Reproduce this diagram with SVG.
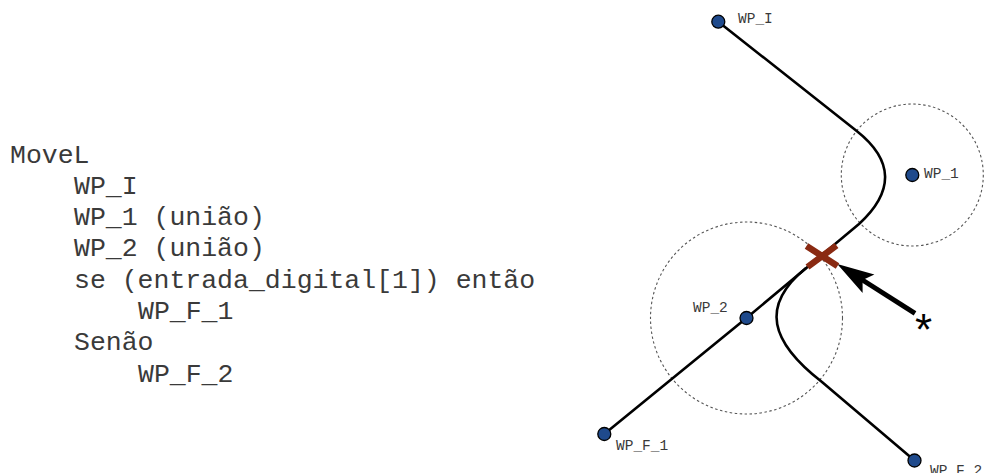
<svg xmlns="http://www.w3.org/2000/svg" width="984" height="473" viewBox="0 0 984 473">
<defs>
<style>
.code{font-family:"Liberation Mono","Courier New",monospace;font-size:26.5px;fill:#3a3a3a}
.lbl{font-family:"Liberation Mono","Courier New",monospace;font-size:14.5px;fill:#3a3a3a}
.wp{fill:#1f4a8c;stroke:#000;stroke-width:1.3}
.zone{fill:none;stroke:#555;stroke-width:1.1;stroke-dasharray:2.5 2.5}
.path{fill:none;stroke:#000;stroke-width:2.6;stroke-linejoin:round}
</style>
<marker id="ah" viewBox="0 -12 40 24" refX="9" refY="0" markerWidth="40" markerHeight="24" markerUnits="userSpaceOnUse" orient="auto" overflow="visible">
<path d="M37,0 L0,-11 L7,0 L0,11 Z" fill="#000"/>
</marker>
</defs>
<rect width="984" height="473" fill="#fff"/>
<g id="code">
<text class="code" x="10" y="162.5">MoveL</text>
<text class="code" x="74" y="193.8">WP_I</text>
<text class="code" x="74" y="225.1">WP_1 (união)</text>
<text class="code" x="74" y="256.4">WP_2 (união)</text>
<text class="code" x="74" y="287.7">se (entrada_digital[1]) então</text>
<text class="code" x="138" y="319">WP_F_1</text>
<text class="code" x="74" y="350.3">Senão</text>
<text class="code" x="138" y="381.6">WP_F_2</text>
</g>
<g id="zones">
<circle class="zone" cx="912.3" cy="175" r="71"/>
<circle class="zone" cx="746.5" cy="318" r="96"/>
</g>
<g id="connectors">
<path class="path" d="M718.3,21.7 L856.7,131 Q912.3,175 859,224 L746.5,318 L604.3,434"/>
<path class="path" d="M806,268 C759.4,305.9 770.5,342 822,382 L914.5,460.5"/>
<line x1="915" y1="313.3" x2="860.9" y2="279" stroke="#000" stroke-width="5" marker-end="url(#ah)"/>
</g>
<g id="cross">
<path d="M806.5,246 L837.5,266 M807.5,267 L836.5,245.5" stroke="#8a2a12" stroke-width="6.5" fill="none"/>
</g>
<g id="WP_I"><circle class="wp" cx="718.3" cy="21.7" r="6.5"/><text class="lbl" x="738" y="23">WP_I</text></g>
<g id="WP_1"><circle class="wp" cx="912.3" cy="175" r="6.5"/><text class="lbl" x="924" y="178">WP_1</text></g>
<g id="WP_2"><circle class="wp" cx="746.5" cy="318" r="6.5"/><text class="lbl" x="693" y="312">WP_2</text></g>
<g id="WP_F_1"><circle class="wp" cx="604.3" cy="434" r="6.5"/><text class="lbl" x="616" y="450">WP_F_1</text></g>
<g id="WP_F_2"><circle class="wp" cx="914.5" cy="460.5" r="6.5"/><text class="lbl" x="930" y="475">WP_F_2</text></g>
<g id="star"><text x="923.5" y="345" text-anchor="middle" style="font-family:'Liberation Sans',Arial,sans-serif;font-size:44px;fill:#000">*</text></g>
</svg>
